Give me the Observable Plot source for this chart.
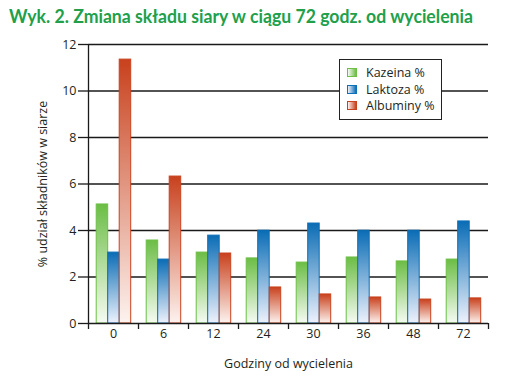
<!DOCTYPE html>
<html><head><meta charset="utf-8">
<script src="https://cdn.jsdelivr.net/npm/d3@7"></script>
<script src="https://cdn.jsdelivr.net/npm/@observablehq/plot@0.6"></script>
<style>
body{margin:0;background:#fff;}
#wrap{position:relative;width:519px;height:381px;overflow:hidden;background:#fff;}
#title{position:absolute;left:9px;top:5px;font-family:Lato,"Open Sans",sans-serif;font-weight:700;font-size:18px;color:#21a04b;white-space:nowrap;transform-origin:0 0;}
#chart{position:absolute;left:0;top:36px;}
#legend{position:absolute;left:339px;top:59px;width:103px;height:61px;box-sizing:border-box;border:1.3px solid #222;background:#fff;font-family:"Open Sans",sans-serif;font-size:12.5px;color:#231f20;}
.row{position:absolute;left:7px;height:16px;line-height:16px;white-space:nowrap;}
.sw{display:inline-block;width:8px;height:7px;vertical-align:middle;margin-right:9px;position:relative;top:-1px;}
</style></head>
<body>
<div id="wrap">
  <div id="title">Wyk. 2. Zmiana składu siary w ciągu 72 godz. od wycielenia</div>
  <div id="chart"></div>
  <div id="legend"></div>
</div>
<script>
const hours = ["0", "6", "12", "24", "30", "36", "48", "72"];
const kazeina = [5.12, 3.57, 3.05, 2.80, 2.62, 2.84, 2.67, 2.75];
const laktoza = [3.05, 2.75, 3.78, 3.99, 4.30, 3.99, 3.99, 4.39];
const albuminy = [11.35, 6.32, 3.01, 1.55, 1.25, 1.12, 1.03, 1.08];
const seriesNames = ["Kazeina %", "Laktoza %", "Albuminy %"];
const yTicks = [0, 2, 4, 6, 8, 10, 12];

const colors = [
  {id: "gK", top: "#6bbd45", bottom: "#f6fbf3", stroke: "#6dbf46"},
  {id: "gL", top: "#0a6cb5", bottom: "#eef2fc", stroke: "#0d70b8"},
  {id: "gA", top: "#c8411d", bottom: "#fdf3ef", stroke: "#c8421e"}
];
const table = vals => hours.map((h, i) => ({hour: h, value: vals[i]}));
const seriesData = [kazeina, laktoza, albuminy].map(table);
const insets = [[8.2, 30.3], [19.7, 18.8], [31.2, 7.3]];

const ink = "#1a1a1a";
const plot = Plot.plot({
  width: 519, height: 345,
  marginTop: 8, marginBottom: 58, marginLeft: 88, marginRight: 31,
  style: {fontFamily: "'Open Sans', sans-serif", fontSize: "12.5px", color: "#231f20", background: "transparent", overflow: "visible"},
  x: {type: "band", domain: hours, padding: 0},
  y: {domain: [0, 12]},
  marks: [
    Plot.gridY({ticks: yTicks.slice(1), stroke: ink, strokeOpacity: 1, strokeWidth: 1.3}),
    ...seriesData.map((d, k) => Plot.barY(d, {
      x: "hour", y: "value",
      fill: `url(#${colors[k].id})`, stroke: colors[k].stroke, strokeWidth: 1,
      insetLeft: insets[k][0], insetRight: insets[k][1]
    })),
    Plot.ruleY([0], {stroke: ink, strokeWidth: 1.3}),
    Plot.ruleX([hours[0]], {dx: -25, stroke: ink, strokeWidth: 1.3}),
    Plot.axisY({ticks: yTicks, tickSize: 10, tickPadding: 2, stroke: ink, strokeWidth: 1.3,
      label: "% udział składników w siarze", labelAnchor: "center", labelOffset: 50, labelArrow: "none"}),
    Plot.axisX({tickSize: 0, tickPadding: 6, label: "Godziny od wycielenia", labelAnchor: "center", labelOffset: 44, labelArrow: "none"}),
    Plot.axisX({tickSize: 6, dx: -25, tickFormat: null, label: null, stroke: ink, strokeWidth: 1.3}),
    Plot.axisX({ticks: [hours[hours.length - 1]], tickSize: 6, dx: 25, tickFormat: null, label: null, stroke: ink, strokeWidth: 1.3})
  ]
});

const defs = d3.select(plot).insert("defs", ":first-child");
colors.forEach(c => {
  const g = defs.append("linearGradient").attr("id", c.id).attr("x1", 0).attr("y1", 0).attr("x2", 0).attr("y2", 1);
  g.append("stop").attr("offset", "0%").attr("stop-color", c.top);
  g.append("stop").attr("offset", "100%").attr("stop-color", c.bottom);
});
document.getElementById("chart").appendChild(plot);

const legend = document.getElementById("legend");
seriesNames.forEach((name, k) => {
  const row = document.createElement("div");
  row.className = "row";
  row.style.top = (5 + k * 16.5) + "px";
  const sw = document.createElement("span");
  sw.className = "sw";
  sw.style.background = `linear-gradient(to right, ${colors[k].bottom}, ${colors[k].top})`;
  sw.style.border = `1px solid ${colors[k].stroke}`;
  row.appendChild(sw);
  row.appendChild(document.createTextNode(name));
  legend.appendChild(row);
});

const title = document.getElementById("title");
const w = title.getBoundingClientRect().width;
title.style.transform = `scaleX(${464 / w})`;
</script>
</body></html>
